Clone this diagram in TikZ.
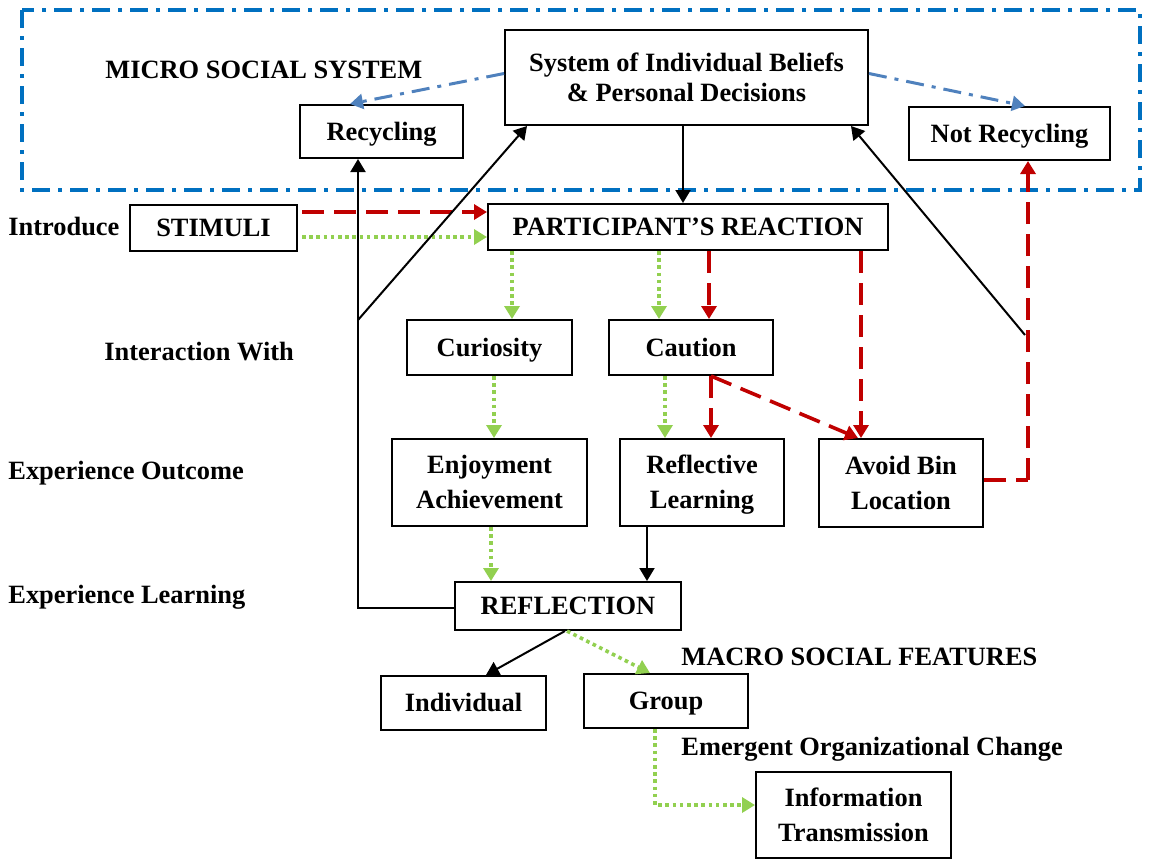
\documentclass[tikz,border=0pt]{standalone}
\usepackage{fontspec}
\setmainfont{Liberation Serif}
\usetikzlibrary{arrows.meta,calc}
\definecolor{myred}{HTML}{C00000}
\definecolor{mygreen}{HTML}{92D050}
\definecolor{myblue}{HTML}{0070C0}
\definecolor{lblue}{HTML}{4F81BD}
\newcommand\twolines[2]{\rule{0pt}{12pt}#1\\#2\rule[-3.3pt]{0pt}{3.3pt}}
\begin{document}
\begin{tikzpicture}[x=0.5pt,y=-0.5pt,
  font=\fontsize{13.2}{17.5}\selectfont\bfseries,
  bx/.style 2 args={draw, line width=1pt, align=center, inner sep=0pt, minimum width=#1, minimum height=#2},
  sl/.style={text height=11pt, text depth=2.3pt},
  lbl/.style={anchor=west, inner sep=0pt},
  tipT/.style={-{Triangle[length=6.5pt,width=7.5pt]}},
  blk/.style={draw=black, line width=1pt, tipT},
  rd/.style={draw=myred, line width=1.8pt, dash pattern=on 11pt off 5pt, tipT},
  rdline/.style={draw=myred, line width=1.8pt, dash pattern=on 11pt off 5pt},
  gr/.style={draw=mygreen, line width=1.8pt, dash pattern=on 1.8pt off 1.8pt, tipT},
  bl/.style={draw=lblue, line width=1.5pt, dash pattern=on 9pt off 4pt on 2pt off 4pt, tipT},
  frame/.style={draw=myblue, line width=1.6pt, dash pattern=on 9pt off 4pt on 2pt off 4pt}
]
\useasboundingbox (0,0) rectangle (1149,859);

% frame
\draw[frame] (22,10) rectangle (1140,190);

% nodes
\node[bx={181.5pt}{47.5pt}, font=\fontsize{13.2}{15}\selectfont\bfseries] (sys) at (686.5,77.5) {\twolines{System of Individual Beliefs}{\& Personal Decisions}};
\node[bx={81.5pt}{26.5pt}, sl] (rec) at (381.5,131.5) {Recycling};
\node[bx={100.5pt}{26.5pt}, sl] (notrec) at (1009.5,133.5) {Not Recycling};
\node[bx={83.5pt}{23pt}, sl] (stim) at (213.5,228) {STIMULI};
\node[bx={200pt}{23pt}, sl] (part) at (688,227) {PARTICIPANT’S REACTION};
\node[bx={82.5pt}{27.5pt}, sl] (cur) at (489.5,347.5) {Curiosity};
\node[bx={82pt}{27.5pt}, sl] (cau) at (691,347.5) {Caution};
\node[bx={97.5pt}{43.5pt}] (enj) at (489.5,482.5) {\twolines{Enjoyment}{Achievement}};
\node[bx={82pt}{43.5pt}] (refl) at (702,482.5) {\twolines{Reflective}{Learning}};
\node[bx={82pt}{44pt}] (avoid) at (901,483) {\twolines{Avoid Bin}{Location}};
\node[bx={113pt}{24pt}, sl] (reflection) at (568,606) {REFLECTION};
\node[bx={82.5pt}{27pt}, sl] (ind) at (463.5,703) {Individual};
\node[bx={82pt}{27pt}, sl] (grp) at (666,701) {Group};
\node[bx={97.5pt}{43pt}] (info) at (853.5,815) {\twolines{Information}{Transmission}};

% labels
\node[lbl] (lmicro) at (105,70) {MICRO SOCIAL SYSTEM};
\node[lbl] (lintro) at (8,226) {Introduce};
\node[lbl] (linter) at (104,352) {Interaction With};
\node[lbl] (lout) at (8,473) {Experience Outcome};
\node[lbl] (llearn) at (8,597) {Experience Learning};
\node[lbl] (lmacro) at (681,657) {MACRO SOCIAL FEATURES};
\node[lbl] (lemerg) at (681,749) {Emergent Organizational Change};

% free coordinates
\coordinate (fr) at (1025,335);
\coordinate (jn) at (358,320);

% blue dash-dot
\draw[bl] ([yshift=2pt]sys.west) -- ([xshift=-15.75pt]rec.north);
\draw[bl] ([yshift=2pt]sys.east) -- ([xshift=7.75pt]notrec.north);

% black system -> participant
\draw[blk] ([xshift=-1.75pt]sys.south) -- ([xshift=-1.75pt]sys.south |- part.north);

% stimuli -> participant
\draw[rd] ([xshift=2pt,yshift=8pt]stim.east) -- ([yshift=8pt]stim.east -| part.west);
\draw[gr] ([xshift=2pt,yshift=-4.5pt]stim.east) -- ([yshift=-4.5pt]stim.east -| part.west);

% participant -> curiosity / caution / avoid
\draw[gr] ([xshift=11.25pt]cur.north |- part.south) -- ([xshift=11.25pt]cur.north);
\draw[gr] ([xshift=-16pt]cau.north |- part.south) -- ([xshift=-16pt]cau.north);
\draw[rd] ([xshift=9pt]cau.north |- part.south) -- ([xshift=9pt]cau.north);
\draw[rd] ([xshift=-20pt]avoid.north |- part.south) -- ([xshift=-20pt]avoid.north);

% curiosity / caution -> outcomes
\draw[gr] ([xshift=2.25pt]enj.north |- cur.south) -- ([xshift=2.25pt]enj.north);
\draw[gr] ([xshift=-18.5pt]refl.north |- cau.south) -- ([xshift=-18.5pt]refl.north);
\draw[rd] ([xshift=4.5pt]refl.north |- cau.south) -- ([xshift=4.5pt]refl.north);
\draw[rd] ([xshift=4.5pt]refl.north |- cau.south) -- ([xshift=-21.5pt]avoid.north);

% avoid -> not recycling
\draw[rdline] ([yshift=1.5pt]avoid.east) -- ([xshift=9.25pt,yshift=1.5pt]avoid.east -| notrec.south);
\draw[rd] ([xshift=9.25pt,yshift=1.5pt]avoid.east -| notrec.south) -- ([xshift=9.25pt]notrec.south);

% free line to system
\draw[blk] (fr) -- ([xshift=-9pt]sys.south east);

% outcomes -> reflection
\draw[gr] ([xshift=-38.5pt]reflection.north |- enj.south) -- ([xshift=-38.5pt]reflection.north);
\draw[blk] ([xshift=39.5pt]reflection.north |- refl.south) -- ([xshift=39.5pt]reflection.north);

% reflection -> recycling, junction -> system
\draw[blk] ([yshift=-1pt]reflection.west) -| ([xshift=-11.75pt]rec.south);
\draw[blk] (jn) -- ([xshift=11.5pt]sys.south west);

% reflection -> individual / group
\draw[blk] ([xshift=-1.5pt]reflection.south) -- ([xshift=11.25pt]ind.north);
\draw[gr] ([xshift=-0.5pt]reflection.south) -- ([xshift=-8pt]grp.north);

% group -> information
\draw[gr] ([xshift=-5.5pt]grp.south) |- ([yshift=5pt]info.west);
\end{tikzpicture}
\end{document}
